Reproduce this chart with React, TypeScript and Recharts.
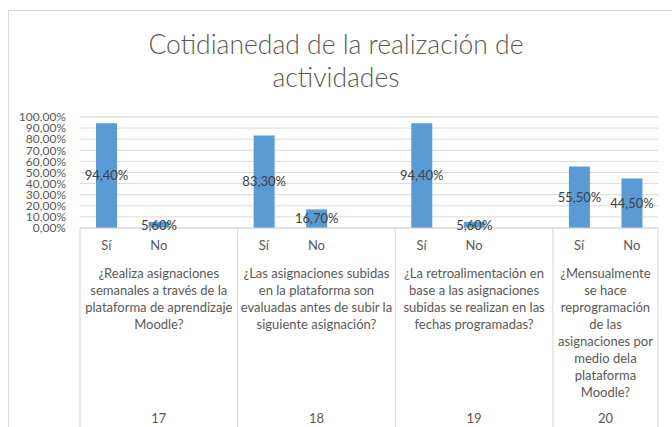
import { BarChart, Bar, XAxis, YAxis, CartesianGrid, LabelList } from "recharts";

const questionNumbers = ["17", "18", "19", "20"];

const questionLines = [
  ["¿Realiza asignaciones", "semanales a través de la", "plataforma de aprendizaje", "Moodle?"],
  ["¿Las asignaciones subidas", "en la plataforma son", "evaluadas antes de subir la", "siguiente asignación?"],
  ["¿La retroalimentación en", "base a las asignaciones", "subidas se realizan en las", "fechas programadas?"],
  ["¿Mensualmente", "se hace", "reprogramación", "de las", "asignaciones por", "medio dela", "plataforma", "Moodle?"],
];

const answers = ["Sí", "No"];

// percent of answers per question, [Sí, No]
const shares = [
  [94.4, 5.6],
  [83.3, 16.7],
  [94.4, 5.6],
  [55.5, 44.5],
];

const yTicks = [0, 10, 20, 30, 40, 50, 60, 70, 80, 90, 100];
const minorTicks = Array.from({ length: 51 }, (_, i) => i * 2);

interface Row {
  answer: string;
  value: number | null;
  group: number;
  first: boolean;
  last: boolean;
}

// each question gets Sí, No and an empty slot (except the last one)
const rows: Row[] = [];
questionNumbers.forEach((_, g) => {
  answers.forEach((a, i) => {
    rows.push({ answer: a, value: shares[g][i], group: g, first: i === 0, last: false });
  });
  if (g < questionNumbers.length - 1) {
    rows.push({ answer: "", value: null, group: g, first: false, last: false });
  }
});
rows[rows.length - 1].last = true;

const W = 672;
const H = 427;
const X_H = 199;
const Y_W = 80;
const M = { top: 117, right: 14, bottom: 0, left: 0 };
const BAND = (W - M.left - M.right - Y_W) / rows.length;

const FONT = "Lato, 'Open Sans', sans-serif";
const TXT = "#595959";
const LINE = "#D9D9D9";

const pct = (v: number) => `${v.toFixed(2).replace(".", ",")}%`;

function CategoryTick(props: any) {
  const { x, y, index } = props;
  const row = rows[index];
  if (!row) return null;
  const g = row.group;
  const size = rows.filter((r) => r.group === g).length;
  const groupCenter = x - BAND / 2 + (size * BAND) / 2;
  const bottom = y + X_H;
  return (
    <g>
      {row.first && <line x1={x - BAND / 2} y1={y} x2={x - BAND / 2} y2={bottom} stroke={LINE} />}
      {row.last && <line x1={x + BAND / 2} y1={y} x2={x + BAND / 2} y2={bottom} stroke={LINE} />}
      <text x={x} y={y + 17} dy="0.35em" textAnchor="middle" fill={TXT} fontSize={13} fontFamily={FONT}>
        {row.answer}
      </text>
      {row.first && (
        <>
          {questionLines[g].map((l, i) => (
            <text
              key={i}
              x={groupCenter}
              y={y + 45 + i * 17}
              dy="0.35em"
              textAnchor="middle"
              fill={TXT}
              fontSize={13}
              fontFamily={FONT}
            >
              {l}
            </text>
          ))}
          <text x={groupCenter} y={y + 190} dy="0.35em" textAnchor="middle" fill={TXT} fontSize={13} fontFamily={FONT}>
            {questionNumbers[g]}
          </text>
        </>
      )}
    </g>
  );
}

export default function App() {
  return (
    <div style={{ position: "absolute", left: 0, top: 0, width: W, height: H, overflow: "hidden", background: "#fff" }}>
      <div
        style={{
          position: "absolute",
          left: 8,
          top: 10,
          width: 720,
          height: 500,
          border: `1px solid ${LINE}`,
          boxSizing: "border-box",
        }}
      />
      <div
        style={{
          position: "absolute",
          left: 0,
          top: 28,
          width: W,
          textAlign: "center",
          fontFamily: FONT,
          fontWeight: 300,
          fontSize: 26.5,
          lineHeight: "33px",
          color: TXT,
        }}
      >
        Cotidianedad de la realización de
        <br />
        actividades
      </div>
      <div style={{ position: "absolute", left: 0, top: 0 }}>
        <BarChart width={W} height={H} data={rows} margin={M} barSize={21}>
          <YAxis yAxisId="minor" domain={[0, 100]} ticks={minorTicks} hide />
          <CartesianGrid yAxisId="minor" vertical={false} stroke="#F0F0F0" />
          <CartesianGrid yAxisId="main" vertical={false} stroke={LINE} />
          <XAxis
            dataKey="answer"
            interval={0}
            tickLine={false}
            tickSize={0}
            tickMargin={0}
            axisLine={{ stroke: LINE }}
            height={X_H}
            tick={<CategoryTick />}
            allowDuplicatedCategory
          />
          <YAxis
            yAxisId="main"
            domain={[0, 100]}
            ticks={yTicks}
            interval={0}
            width={Y_W}
            axisLine={false}
            tickLine={false}
            tickMargin={8}
            tickFormatter={pct}
            tick={{ fill: TXT, fontSize: 12, fontFamily: FONT }}
          />
          <Bar yAxisId="main" dataKey="value" fill="#5B9BD5" isAnimationActive={false}>
            <LabelList
              dataKey="value"
              position="center"
              formatter={(v: any) => (v == null ? "" : pct(v))}
              fill="#404040"
              fontSize={13}
              fontFamily={FONT}
            />
          </Bar>
        </BarChart>
      </div>
    </div>
  );
}
